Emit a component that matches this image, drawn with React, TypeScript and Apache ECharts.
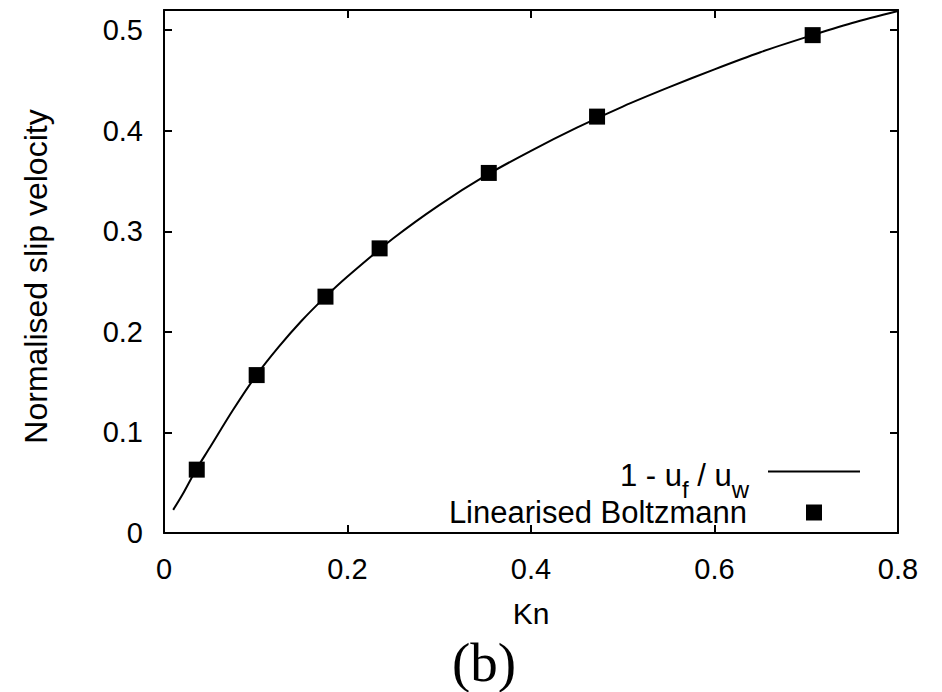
import React, { useEffect, useRef } from "react";
import * as echarts from "echarts";

// Continuous curve 1 - uf/uw against Knudsen number
const knCurve = [0.01, 0.02, 0.035, 0.05, 0.075, 0.1, 0.125, 0.15, 0.175, 0.2, 0.25, 0.3, 0.35, 0.4, 0.45, 0.5, 0.55, 0.6, 0.65, 0.7, 0.75, 0.8];
const slipCurve = [0.023, 0.038, 0.063, 0.085, 0.122, 0.156, 0.185, 0.211, 0.234, 0.255, 0.293, 0.326, 0.355, 0.38, 0.403, 0.424, 0.443, 0.461, 0.478, 0.493, 0.507, 0.519];

// Linearised Boltzmann solutions
const knPoints = [0.0357, 0.101, 0.176, 0.235, 0.354, 0.472, 0.707];
const slipPoints = [0.063, 0.157, 0.235, 0.283, 0.358, 0.414, 0.495];

// Axis ranges and tick steps
const xRange = [0, 0.8];
const xStep = 0.2;
const yRange = [0, 0.52];
const yStep = 0.1;

const CURVE_NAME = "1 - uf / uw";
const POINTS_NAME = "Linearised Boltzmann";
const SUBFIG_LABEL = "(b)";

const SANS = "'Liberation Sans', Arial, Helvetica, sans-serif";
const SERIF = "'Liberation Serif', 'Times New Roman', serif";
const INK = "#000";

// Plain line key: a 2px bar across the icon box, with tiny corner dots fixing the box extent
const LINE_KEY = "path://M0,0h0.01v0.01h-0.01zM0,7h92v2h-92zM92,16h-0.01v-0.01h0.01z";

const frameLine = { show: true, onZero: false, lineStyle: { color: INK, width: 2 } };
const innerTick = { show: true, inside: true, length: 8, lineStyle: { color: INK, width: 2 } };

function buildOption(): echarts.EChartsOption {
  const curve = knCurve.map((k, i) => [k, slipCurve[i]]);
  const points = knPoints.map((k, i) => [k, slipPoints[i]]);
  return {
    animation: false,
    backgroundColor: "#fff",
    grid: { left: 164, right: 44, top: 10, bottom: 159, containLabel: false },
    xAxis: [
      {
        type: "value",
        position: "bottom",
        min: xRange[0],
        max: xRange[1],
        interval: xStep,
        name: "Kn",
        nameLocation: "middle",
        nameGap: 65,
        nameTextStyle: { fontFamily: SANS, fontSize: 30, color: INK },
        axisLine: frameLine,
        axisTick: innerTick,
        axisLabel: { fontFamily: SANS, fontSize: 29, color: INK, margin: 21 },
        splitLine: { show: false },
      },
      {
        type: "value",
        position: "top",
        min: xRange[0],
        max: xRange[1],
        interval: xStep,
        axisLine: frameLine,
        axisTick: innerTick,
        axisLabel: { show: false },
        splitLine: { show: false },
      },
    ],
    yAxis: [
      {
        type: "value",
        position: "left",
        min: yRange[0],
        max: yRange[1],
        interval: yStep,
        name: "Normalised slip velocity",
        nameLocation: "middle",
        nameRotate: 90,
        nameGap: 112,
        nameTextStyle: { fontFamily: SANS, fontSize: 32, color: INK, padding: [0, 10, 0, 0] },
        axisLine: frameLine,
        axisTick: innerTick,
        axisLabel: { fontFamily: SANS, fontSize: 29, color: INK, margin: 21, showMaxLabel: false },
        splitLine: { show: false },
      },
      {
        type: "value",
        position: "right",
        min: yRange[0],
        max: yRange[1],
        interval: yStep,
        axisLine: frameLine,
        axisTick: innerTick,
        axisLabel: { show: false },
        splitLine: { show: false },
      },
    ],
    legend: [
      {
        data: [{ name: CURVE_NAME, icon: LINE_KEY }],
        orient: "vertical",
        align: "right",
        right: 82,
        top: 456,
        padding: 0,
        itemWidth: 92,
        itemHeight: 16,
        itemStyle: { color: INK, opacity: 1 },
        formatter: () => "{a|1 - u}{s|f}{a| / u}{s|w}",
        textStyle: {
          color: INK,
          padding: [0, 14, 0, 0],
          rich: {
            a: { fontFamily: SANS, fontSize: 31, lineHeight: 31, color: INK, verticalAlign: "top", padding: [4, 0, 0, 0] },
            s: { fontFamily: SANS, fontSize: 24, lineHeight: 18, color: INK, verticalAlign: "top", padding: [21, 0, 0, 0] },
          },
        },
      },
      {
        data: [POINTS_NAME],
        orient: "vertical",
        align: "right",
        right: 120,
        top: 497,
        padding: 0,
        itemWidth: 16,
        itemHeight: 16,
        itemStyle: { opacity: 1 },
        textStyle: { fontFamily: SANS, fontSize: 31, lineHeight: 30, color: INK, padding: [0, 54, 0, 0] },
      },
    ],
    series: [
      {
        name: CURVE_NAME,
        type: "line",
        data: curve,
        showSymbol: false,
        symbol: "none",
        smooth: 0.3,
        lineStyle: { color: INK, width: 2 },
        itemStyle: { color: INK },
        z: 2,
      },
      {
        name: POINTS_NAME,
        type: "scatter",
        data: points,
        symbol: "rect",
        symbolSize: 16,
        itemStyle: { color: INK, opacity: 1 },
        z: 3,
      },
    ],
    graphic: [
      {
        type: "text",
        x: 484,
        y: 662,
        style: {
          text: SUBFIG_LABEL,
          font: `55px ${SERIF}`,
          fill: INK,
          textAlign: "center",
          textVerticalAlign: "middle",
        },
      },
    ],
  } as echarts.EChartsOption;
}

export default function App() {
  const ref = useRef<HTMLDivElement>(null);
  useEffect(() => {
    if (!ref.current) return;
    const chart = echarts.init(ref.current, undefined, { renderer: "svg" });
    chart.setOption(buildOption());
    return () => chart.dispose();
  }, []);
  return (
    <div
      ref={ref}
      style={{ position: "absolute", left: 0, top: 0, width: 942, height: 692, background: "#fff" }}
    />
  );
}
